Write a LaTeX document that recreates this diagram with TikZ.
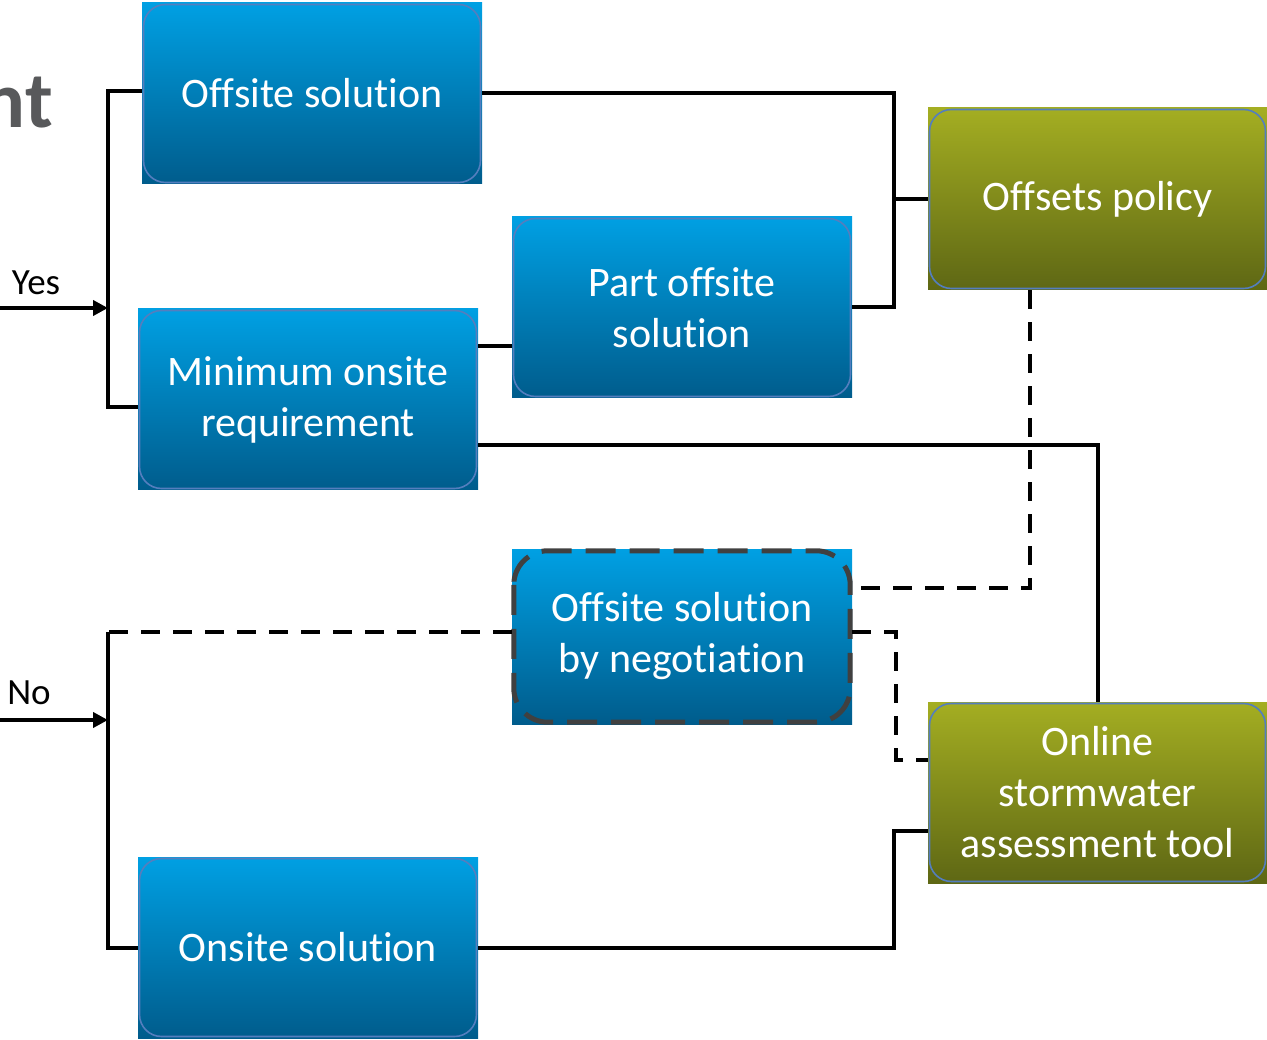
\documentclass[tikz,border=0pt]{standalone}
\usepackage{fontspec}
\setmainfont{Carlito}[Ligatures={NoCommon}]
\usetikzlibrary{arrows.meta,calc}
\definecolor{btop}{RGB}{0,160,227}
\definecolor{bbot}{RGB}{0,92,140}
\definecolor{otop}{RGB}{164,174,34}
\definecolor{obot}{RGB}{94,103,20}
\definecolor{edgeblue}{RGB}{84,126,190}
\definecolor{titlegray}{RGB}{88,89,91}
\definecolor{dashgray}{RGB}{64,64,64}
\tikzset{
  boxbase/.style={rectangle, inner sep=0pt, text=white, align=center,
    font=\fontsize{42}{51}\selectfont, minimum width=340, minimum height=181},
  bluebox/.style={boxbase, top color=btop, bottom color=bbot,
    path picture={\draw[edgeblue, line width=1.6pt, rounded corners=22pt]
      ([shift={(1.5pt,-1.5pt)}]path picture bounding box.north west) rectangle
      ([shift={(-1.5pt,1.5pt)}]path picture bounding box.south east);}},
  olivebox/.style={boxbase, top color=otop, bottom color=obot,
    path picture={\draw[edgeblue, line width=1.6pt, rounded corners=22pt]
      ([shift={(1.5pt,-1.5pt)}]path picture bounding box.north west) rectangle
      ([shift={(-1.5pt,1.5pt)}]path picture bounding box.south east);}},
  negbox/.style={boxbase, top color=btop, bottom color=bbot},
  conn/.style={line width=4pt, black},
  dconn/.style={line width=4pt, black, dash pattern=on 19pt off 13pt},
  arr/.style={line width=4pt, black, -{Triangle[length=15pt,width=15pt]}},
  lbl/.style={font=\fontsize{37}{44}\selectfont, text=black, inner sep=0pt}
}
\begin{document}
\begin{tikzpicture}[x=1pt,y=-1pt]
\useasboundingbox (0,0) rectangle (1267,1040);
\clip (0,0) rectangle (1267,1040);

% title fragment
\node[anchor=base east, inner sep=0pt, text=titlegray,
  font=\fontsize{80}{90}\selectfont\bfseries] (title) at (53,128) {nt};

% boxes
\node[bluebox] (os) at (312,93.5) {Offsite solution};
\node[bluebox] (pos) at (682,307.5) {Part offsite\\solution};
\node[bluebox] (mor) at (308,399.5) {Minimum onsite\\requirement};
\node[negbox, minimum height=175] (neg) at (682,636.5) {Offsite solution\\by negotiation};
\draw[dashgray, line width=5pt, rounded corners=34pt, dash pattern=on 30pt off 14pt]
  ([shift={(2pt,-2pt)}]neg.north west) rectangle ([shift={(-2pt,2pt)}]neg.south east);
\node[bluebox] (ons) at (308,947.5) {Onsite solution};
\node[olivebox, minimum width=339, minimum height=182] (pol) at (1097.5,199) {Offsets policy};
\node[olivebox, minimum width=339] (tool) at (1097.5,792.5) {Online\\stormwater\\assessment tool};

% labels
\node[lbl] (yes) at (36,283) {Yes};
\node[lbl] (no) at (29,693) {No};

% helper coordinates
\coordinate (yin) at (0,308);
\coordinate (ybar) at (108,308);
\coordinate (ytop) at (108,91);
\coordinate (ybot) at (108,407);
\coordinate (rj) at (894,307.5);
\coordinate (nin) at (0,720);
\coordinate (nbar) at (108,720);
\coordinate (ntop) at (108,632);
\coordinate (nbot) at (108,947.5);
\coordinate (dj) at (896,760);
\coordinate (bj) at (894,831);

% yes branch
\draw[arr] (yin) -- (ybar);
\draw[conn] ([yshift=2.5pt]os.west) -- (ytop) -- (ybot) -- (mor.west |- ybot);
\draw[conn] (os.east) -| (rj) -- (pos.east);
\draw[conn] (rj |- pol.west) -- (pol.west);
\draw[conn] ([yshift=53.5pt]mor.east) -- ([yshift=53.5pt]mor.east -| pos.west);
\draw[conn] ([yshift=-45.5pt]mor.east) -| (tool.north);

% dashed links
\draw[dconn] ([xshift=-67.5pt]pol.south) |- ([yshift=48.5pt]neg.east);
\draw[dconn] ([yshift=4.5pt]neg.east) -| (dj) -- ([yshift=32.5pt]tool.west);

% no branch
\draw[arr] (nin) -- (nbar);
\draw[dconn] ([yshift=4.5pt]neg.west) -- (ntop);
\draw[conn] (ntop) -- (nbot) -- (ons.west);
\draw[conn] (ons.east) -| (bj) -- ([yshift=-38.5pt]tool.west);
\end{tikzpicture}
\end{document}
